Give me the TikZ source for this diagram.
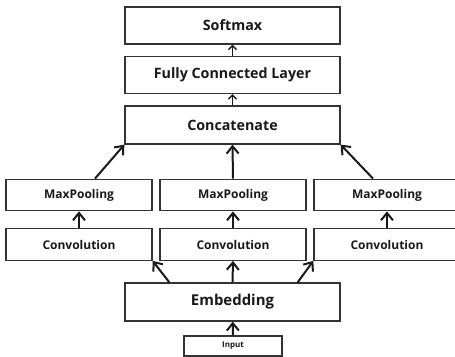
\documentclass[tikz,border=0pt]{standalone}
\usepackage{fontspec}
\setmainfont{Open Sans}
\usetikzlibrary{arrows.meta}
\begin{document}
\begin{tikzpicture}[x=0.75pt,y=-0.75pt,
  layer/.style={draw=black!80,line width=1pt,fill=white,inner sep=0pt,
    font=\bfseries,text=black!90},
  bigbox/.style={layer,minimum width=215*0.75pt,minimum height=37*0.75pt,
    font=\fontsize{10.7pt}{13pt}\bfseries},
  branchbox/.style={layer,minimum width=146*0.75pt,minimum height=31.5*0.75pt,
    font=\fontsize{9pt}{11pt}\bfseries},
  thickarrow/.style={line width=1.5pt,black!90,
    -{Straight Barb[length=5.5pt,width=9pt,line width=1.5pt]}},
  thinarrow/.style={line width=1pt,black!90,
    -{Straight Barb[length=3pt,width=6pt,line width=1pt]}}]
\useasboundingbox (0,0) rectangle (455,357);
\clip (0,0) rectangle (455,357);

% trunk of the network
\node[bigbox] (soft) at (232.5,25.5) {Softmax};
\node[bigbox] (fc)   at (232.5,75)   {Fully Connected Layer};
\node[bigbox,minimum height=38*0.75pt] (cat) at (232.5,125) {Concatenate};
\node[bigbox,minimum height=38*0.75pt,font=\fontsize{11.2pt}{14pt}\bfseries] (emb) at (232.5,302) {Embedding};
\node[layer,minimum width=98*0.75pt,minimum height=20*0.75pt,
  font=\fontsize{6pt}{8pt}\bfseries] (inp) at (233,346) {Input};

% three parallel branches
\node[branchbox] (mpL) at (79,195)    {MaxPooling};
\node[branchbox] (cvL) at (79,244.5)  {Convolution};
\node[branchbox] (mpM) at (233,195)   {MaxPooling};
\node[branchbox] (cvM) at (233,244.5) {Convolution};
\node[branchbox] (mpR) at (387,195)   {MaxPooling};
\node[branchbox] (cvR) at (387,244.5) {Convolution};

% connectors
\draw[thickarrow] (inp) -- (emb);
\draw[thickarrow] ([xshift=45*0.75pt]emb.north west) -- (cvL.south east);
\draw[thickarrow] (emb.north) -- (cvM.south);
\draw[thickarrow] ([xshift=-43*0.75pt]emb.north east) -- (cvR.south west);
\draw[thickarrow] (cvL) -- (mpL);
\draw[thickarrow] (cvM) -- (mpM);
\draw[thickarrow] (cvR) -- (mpR);
\draw[thickarrow] ([xshift=16*0.75pt]mpL.north) -- (cat.south west);
\draw[thickarrow] (mpM.north) -- (cat.south);
\draw[thickarrow] ([xshift=-14*0.75pt]mpR.north) -- (cat.south east);
\draw[thinarrow] (cat) -- (fc);
\draw[thinarrow] (fc) -- (soft);
\end{tikzpicture}
\end{document}
